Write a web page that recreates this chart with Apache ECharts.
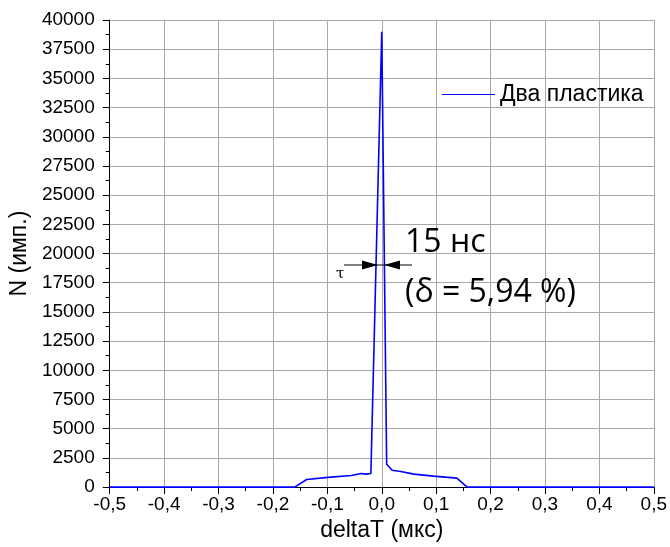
<!DOCTYPE html>
<html><head><meta charset="utf-8">
<script src="https://cdn.jsdelivr.net/npm/echarts@6/dist/echarts.min.js"></script>
<style>html,body{margin:0;padding:0;background:#fff}#c{width:670px;height:547px}</style>
</head><body><div id="c"></div>
<script>
const seriesName = 'Два пластика';
const xValues = [-0.5, -0.16, -0.138, -0.099, -0.056, -0.038, -0.029, -0.02, 0.0, 0.009, 0.019, 0.035, 0.059, 0.095, 0.138, 0.157, 0.5];
const yValues = [0, 0, 650, 830, 1000, 1170, 1110, 1170, 39000, 1960, 1450, 1340, 1110, 940, 770, 0, 0];
const xTitle = 'deltaT (мкс)';
const yTitle = 'N (имп.)';
const note1 = '15 нс';
const note2 = '(δ = 5,94 %)';

const data = xValues.map((x, i) => [x, yValues[i]]);
const chart = echarts.init(document.getElementById('c'), null, {renderer: 'canvas'});
const font = 'Liberation Sans, Arial, sans-serif';
chart.setOption({
  animation: false,
  grid: {left: 107, right: 14, top: 20, bottom: 59},
  legend: {
    show: true, left: 437, top: 78, itemWidth: 53, itemHeight: 14, itemGap: 6,
    textStyle: {fontFamily: font, fontSize: 23, color: '#000'},
    data: [{name: seriesName, icon: 'path://M0,6.5 L53,6.5 L53,7.5 L0,7.5 Z',
            itemStyle: {color: '#0000ff', borderWidth: 0}}]
  },
  xAxis: {
    type: 'value', min: -0.5, max: 0.5, interval: 0.1,
    name: xTitle, nameLocation: 'middle', nameGap: 27,
    nameTextStyle: {fontFamily: font, fontSize: 23, color: '#000'},
    axisLine: {show: true, onZero: false, lineStyle: {color: '#000', width: 1}},
    axisTick: {show: true, inside: false, length: 7, lineStyle: {color: '#000'}},
    minorTick: {show: true, splitNumber: 2, length: 4, lineStyle: {color: '#000'}},
    axisLabel: {fontFamily: font, fontSize: 19, color: '#000', margin: 8,
      formatter: v => (Math.abs(v) < 1e-9 ? 0 : v).toFixed(1).replace('.', ',')},
    splitLine: {show: true, lineStyle: {color: '#a8a8a8', width: 1}}
  },
  yAxis: {
    type: 'value', min: 0, max: 40000, interval: 2500,
    name: yTitle, nameLocation: 'middle', nameGap: 75,
    nameTextStyle: {fontFamily: font, fontSize: 23, color: '#000'},
    axisLine: {show: true, onZero: false, lineStyle: {color: '#000', width: 1}},
    axisTick: {show: true, inside: false, length: 7, lineStyle: {color: '#000'}},
    minorTick: {show: true, splitNumber: 2, length: 4, lineStyle: {color: '#000'}},
    axisLabel: {fontFamily: font, fontSize: 19, color: '#000', margin: 15,
      formatter: v => String(v)},
    splitLine: {show: true, lineStyle: {color: '#a8a8a8', width: 1}}
  },
  series: [{
    name: seriesName, type: 'line', data: data, symbol: 'none', showSymbol: false,
    lineStyle: {color: '#0000ff', width: 1.6}, itemStyle: {color: '#0000ff'}, z: 5
  }],
  graphic: [
    {type: 'line', shape: {x1: 344, y1: 265, x2: 412, y2: 265}, style: {stroke: '#000', lineWidth: 1}, z: 10},
    {type: 'polygon', shape: {points: [[362, 260.5], [378, 265], [362, 269.5]]}, style: {fill: '#000'}, z: 10},
    {type: 'polygon', shape: {points: [[400, 260.5], [384, 265], [400, 269.5]]}, style: {fill: '#000'}, z: 10},
    {type: 'text', left: 336, top: 267, style: {text: 'τ', font: '15px "DejaVu Serif", serif', fill: '#000'}, z: 10},
    {type: 'text', left: 405, top: 227, style: {text: note1, font: '32px "Open Sans", sans-serif', fill: '#000'}, z: 10},
    {type: 'text', left: 405, top: 277, style: {text: note2, font: '32px "Open Sans", sans-serif', fill: '#000'}, z: 10}
  ]
});
</script></body></html>
